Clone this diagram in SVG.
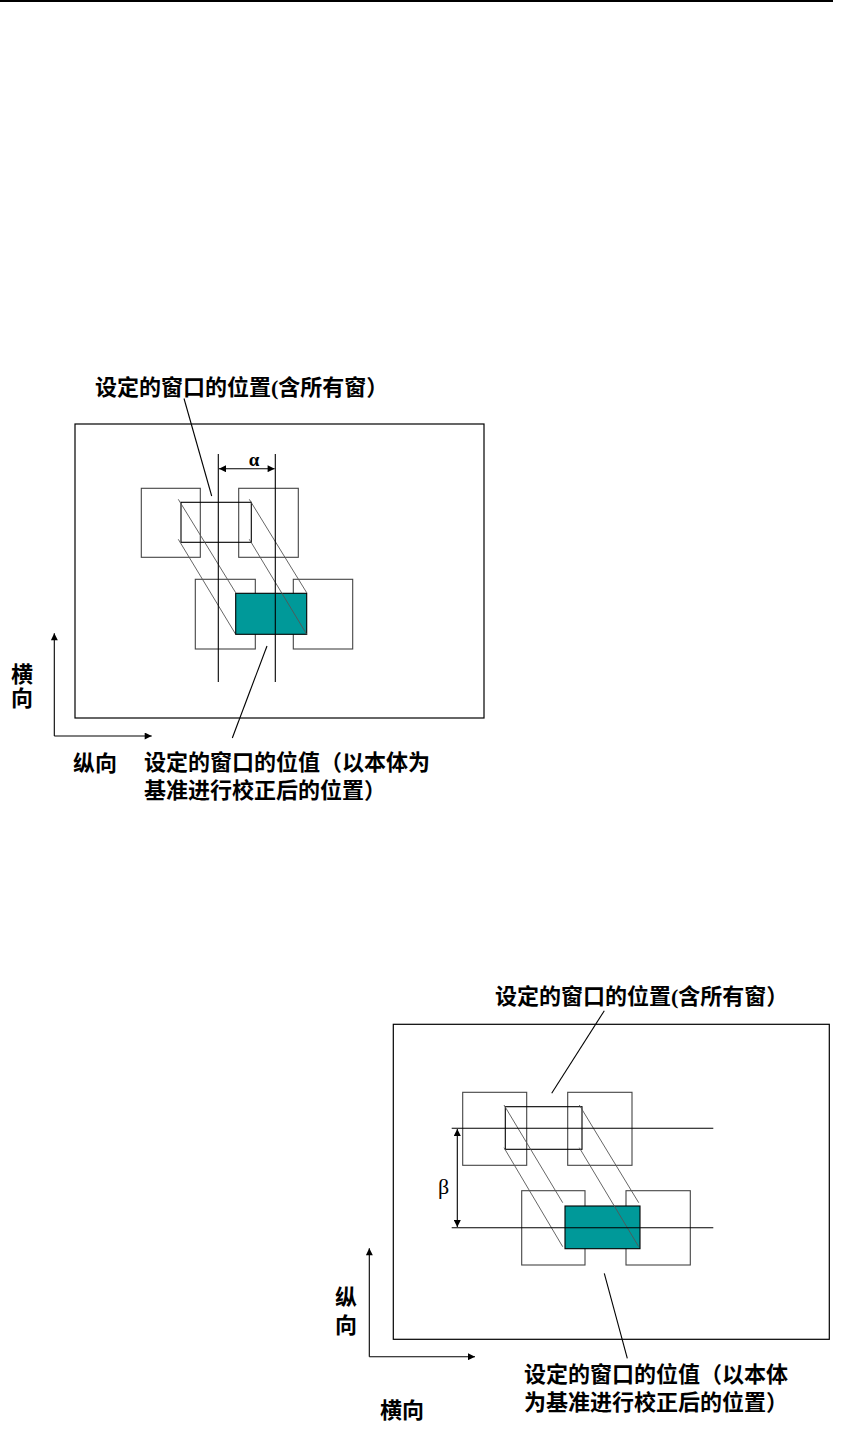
<svg xmlns="http://www.w3.org/2000/svg" width="848" height="1429" viewBox="0 0 848 1429">
<style>
.lbl{font-family:"Liberation Serif","Noto Sans CJK SC",serif;font-weight:bold;font-size:22px;fill:#000}
.greek{font-family:"Liberation Serif","DejaVu Serif",serif;fill:#000}
.box{fill:none;stroke:#000;stroke-width:1.2}
.sq{fill:none;stroke:#444;stroke-width:1.1}
.win{fill:none;stroke:#000;stroke-width:1.1}
.teal{fill:#009999;stroke:#000;stroke-width:1.1}
.diag{stroke:#555;stroke-width:0.9;fill:none}
.ln{stroke:#000;stroke-width:1.1;fill:none}
.lead{stroke:#000;stroke-width:1.1;fill:none}
</style>
<defs>
<marker id="ah" viewBox="0 0 10 10" refX="10" refY="5" markerWidth="8" markerHeight="7" markerUnits="userSpaceOnUse" orient="auto-start-reverse">
<path d="M0,0 L10,5 L0,10 z" fill="#000"/>
</marker>
</defs>
<rect x="0" y="0" width="833" height="2" fill="#000"/>

<g id="diagram1">
<g id="frame1"><rect class="box" x="75" y="424" width="409" height="294"/></g>
<g id="squares1">
<rect class="sq" x="141.3" y="488.3" width="59" height="69"/>
<rect class="sq" x="238.7" y="488.3" width="59.6" height="69"/>
<rect class="sq" x="195.3" y="579.3" width="60" height="69.7"/>
<rect class="sq" x="293.3" y="579.3" width="59.4" height="69.7"/>
</g>
<g id="window1"><rect class="win" x="181" y="502.3" width="70.3" height="40"/></g>
<g id="diags1">
<line class="diag" x1="178.3" y1="499.3" x2="235.7" y2="592.7"/>
<line class="diag" x1="178.3" y1="539.3" x2="235.7" y2="634.3"/>
<line class="diag" x1="249.3" y1="499.3" x2="306.7" y2="592.7"/>
</g>
<g id="corrected1"><rect class="teal" x="235.7" y="593.3" width="71" height="41"/></g>
<g id="connectors1">
<line class="diag" x1="249.3" y1="539.3" x2="306.7" y2="634.3"/>
<line class="ln" x1="218.3" y1="454" x2="218.3" y2="682"/>
<line class="ln" x1="275.3" y1="454" x2="275.3" y2="682"/>
<line class="ln" x1="219" y1="468.7" x2="274.6" y2="468.7" marker-start="url(#ah)" marker-end="url(#ah)"/>
<line class="lead" x1="184" y1="398.5" x2="211.7" y2="496"/>
<line class="lead" x1="267" y1="646" x2="232.3" y2="738"/>
<line class="ln" x1="54.3" y1="736" x2="54.3" y2="633.3" marker-end="url(#ah)"/>
<line class="ln" x1="54.3" y1="736" x2="151.7" y2="736" marker-end="url(#ah)"/>
</g>
<g id="labels1">
<text class="greek" x="254" y="465.5" font-size="19" font-weight="bold" text-anchor="middle">α</text>
<text class="lbl" x="95" y="395">设定的窗口的位置(含所有窗）</text>
<text class="lbl" x="11" y="682">横</text>
<text class="lbl" x="11" y="706">向</text>
<text class="lbl" x="73" y="771">纵向</text>
<text class="lbl" x="144" y="770">设定的窗口的位值（以本体为</text>
<text class="lbl" x="144" y="798">基准进行校正后的位置）</text>
</g>
</g>

<g id="diagram2">
<g id="frame2"><rect class="box" x="393.3" y="1024.3" width="436" height="315"/></g>
<g id="squares2">
<rect class="sq" x="462.7" y="1092.3" width="64" height="73"/>
<rect class="sq" x="567.7" y="1092.3" width="64.3" height="73"/>
<rect class="sq" x="521.7" y="1190.7" width="63.3" height="74.3"/>
<rect class="sq" x="626" y="1190.7" width="64.3" height="74.3"/>
</g>
<g id="window2"><rect class="win" x="505.3" y="1106.7" width="76.7" height="42.6"/></g>
<g id="diags2">
<line class="diag" x1="504" y1="1105" x2="562.7" y2="1202.7"/>
<line class="diag" x1="504" y1="1147.7" x2="562.7" y2="1246.7"/>
<line class="diag" x1="579.3" y1="1105" x2="638.7" y2="1202.7"/>
</g>
<g id="corrected2"><rect class="teal" x="565" y="1206" width="75" height="42.7"/></g>
<g id="connectors2">
<line class="diag" x1="579.3" y1="1147.7" x2="638.7" y2="1246.7"/>
<line class="ln" x1="451.7" y1="1128.3" x2="713.3" y2="1128.3"/>
<line class="ln" x1="451.7" y1="1227.7" x2="713.3" y2="1227.7"/>
<line class="ln" x1="457.3" y1="1129" x2="457.3" y2="1227" marker-start="url(#ah)" marker-end="url(#ah)"/>
<line class="lead" x1="604.3" y1="1010.7" x2="551.7" y2="1093.3"/>
<line class="lead" x1="604.3" y1="1273.3" x2="627.3" y2="1358.3"/>
<line class="ln" x1="369.3" y1="1356.7" x2="369.3" y2="1248.3" marker-end="url(#ah)"/>
<line class="ln" x1="369.3" y1="1356.7" x2="475" y2="1356.7" marker-end="url(#ah)"/>
</g>
<g id="labels2">
<text class="greek" x="443.5" y="1194" font-size="22" text-anchor="middle">β</text>
<text class="lbl" x="495" y="1004">设定的窗口的位置(含所有窗）</text>
<text class="lbl" x="335" y="1305">纵</text>
<text class="lbl" x="335" y="1333">向</text>
<text class="lbl" x="380" y="1418">横向</text>
<text class="lbl" x="524" y="1382">设定的窗口的位值（以本体</text>
<text class="lbl" x="524" y="1410">为基准进行校正后的位置）</text>
</g>
</g>
</svg>
